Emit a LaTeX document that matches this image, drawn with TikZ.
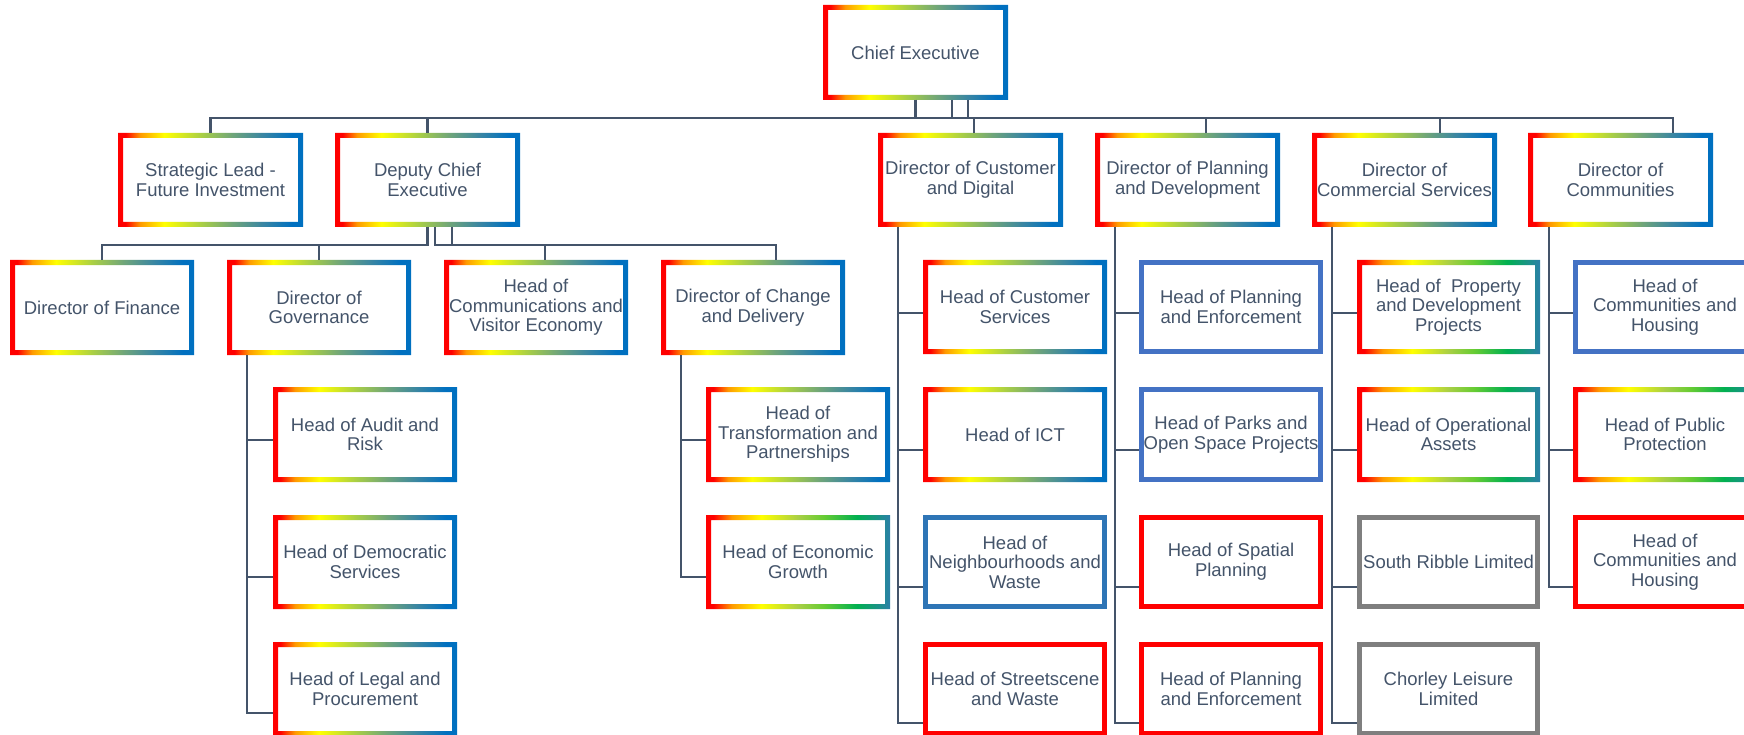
\documentclass[tikz,border=0pt]{standalone}
\usepackage{fontspec}
\setmainfont{Liberation Sans}
\definecolor{textC}{HTML}{44546A}
\definecolor{lineC}{HTML}{44546A}
\definecolor{orA}{HTML}{FF9A00}
\definecolor{yeA}{HTML}{FFFF00}
\definecolor{ygA}{HTML}{A9CF45}
\definecolor{gA}{HTML}{6FA57A}
\definecolor{tA}{HTML}{3A86A2}
\definecolor{bA}{HTML}{0070C0}
\definecolor{gB}{HTML}{66CC33}
\definecolor{g2B}{HTML}{00B050}
\definecolor{tB}{HTML}{2B80A8}
\definecolor{blueS}{HTML}{4472C4}
\definecolor{blueN}{HTML}{2E75B6}
\definecolor{grayS}{HTML}{7F7F7F}
\pgfdeclarehorizontalshading{rainA}{100bp}{color(0bp)=(red); color(27bp)=(red); color(31bp)=(orA); color(37.5bp)=(yeA); color(47.5bp)=(ygA); color(56bp)=(gA); color(64bp)=(tA); color(72bp)=(bA); color(100bp)=(bA)}
\pgfdeclarehorizontalshading{rainB}{100bp}{color(0bp)=(red); color(27bp)=(red); color(32bp)=(orA); color(40bp)=(yeA); color(50bp)=(ygA); color(57bp)=(gB); color(66bp)=(g2B); color(75bp)=(tB); color(100bp)=(tB)}
\tikzset{
  lbl/.style={inner sep=0pt, outer sep=0pt, align=center, text=textC,
    font=\fontsize{18.5pt}{19.6pt}\selectfont},
  conn/.style={draw=lineC, line width=2.8pt}
}
\newcommand\gradbox[7]{%
  \shade[shading=#6, even odd rule] (#2,#3) rectangle (#4,#5) ({#2+5},{#3+5}) rectangle ({#4-5},{#5-5});
  \node[lbl, minimum width={#4-#2}, minimum height={#5-#3}] (#1) at ({(#2+#4)/2},{(#3+#5)/2}) {#7};
}
\newcommand\solidbox[7]{%
  \draw[draw=#6, line width=5pt] ({#2+2.5},{#3+2.5}) rectangle ({#4-2.5},{#5-2.5});
  \node[lbl, minimum width={#4-#2}, minimum height={#5-#3}] (#1) at ({(#2+#4)/2},{(#3+#5)/2}) {#7};
}
\begin{document}
\begin{tikzpicture}[x=1pt, y=-1pt]
\fill[white] (0,0) rectangle (1744,735);
\useasboundingbox (0,0) rectangle (1744,735);
% boxes
\gradbox{chief}{823}{5}{1008}{100}{rainA}{Chief Executive}
\gradbox{strat}{118}{133}{303}{227}{rainA}{Strategic Lead -\\Future Investment}
\gradbox{deputy}{335}{133}{520}{227}{rainA}{Deputy Chief\\Executive}
\gradbox{dcust}{878}{133}{1063}{227}{rainA}{Director of Customer\\and Digital}
\gradbox{dplan}{1095}{133}{1280}{227}{rainA}{Director of Planning\\and Development}
\gradbox{dcomm}{1312}{133}{1497}{227}{rainA}{Director of\\Commercial Services}
\gradbox{dcommun}{1528}{133}{1713}{227}{rainA}{Director of\\Communities}
\gradbox{dfin}{10}{260}{194}{355}{rainA}{Director of Finance}
\gradbox{dgov}{227}{260}{411}{355}{rainA}{Director of\\Governance}
\gradbox{hcomms}{444}{260}{628}{355}{rainA}{Head of\\Communications and\\Visitor Economy}
\gradbox{dchange}{661}{260}{845}{355}{rainA}{Director of Change\\and Delivery}
\gradbox{haudit}{273}{387}{457}{482}{rainA}{Head of Audit and\\Risk}
\gradbox{hdem}{273}{515}{457}{609}{rainA}{Head of Democratic\\Services}
\gradbox{hlegal}{273}{642}{457}{736}{rainA}{Head of Legal and\\Procurement}
\gradbox{htrans}{706}{387}{890}{482}{rainA}{Head of\\Transformation and\\Partnerships}
\gradbox{hecon}{706}{515}{890}{609}{rainB}{Head of Economic\\Growth}
\gradbox{hcust}{923}{260}{1107}{354}{rainA}{Head of Customer\\Services}
\gradbox{hict}{923}{387}{1107}{482}{rainA}{Head of ICT}
\solidbox{hneigh}{923}{515}{1107}{609}{blueN}{Head of\\Neighbourhoods and\\Waste}
\solidbox{hstreet}{923}{642}{1107}{736}{red}{Head of Streetscene\\and Waste}
\solidbox{hplanA}{1139}{260}{1323}{354}{blueS}{Head of Planning\\and Enforcement}
\solidbox{hparks}{1139}{387}{1323}{482}{blueS}{Head of Parks and\\Open Space Projects}
\solidbox{hspatial}{1139}{515}{1323}{609}{red}{Head of Spatial\\Planning}
\solidbox{hplanB}{1139}{642}{1323}{736}{red}{Head of Planning\\and Enforcement}
\gradbox{hprop}{1357}{260}{1540}{354}{rainB}{Head of~~Property\\and Development\\Projects}
\gradbox{hops}{1357}{387}{1540}{482}{rainB}{Head of Operational\\Assets}
\solidbox{hsrl}{1357}{515}{1540}{609}{grayS}{South Ribble Limited}
\solidbox{hcll}{1357}{642}{1540}{736}{grayS}{Chorley Leisure\\Limited}
\solidbox{hchA}{1573}{260}{1757}{354}{blueS}{Head of\\Communities and\\Housing}
\gradbox{hpub}{1573}{387}{1757}{482}{rainB}{Head of Public\\Protection}
\solidbox{hchB}{1573}{515}{1757}{609}{red}{Head of\\Communities and\\Housing}
% top level connectors
\draw[conn] (chief.south) -- ++(0,18) -| (strat.north);
\draw[conn] (chief.south) -- ++(0,18) -| (deputy.north);
\draw[conn] (chief.south) -- ++(0,18) -| ([xshift=3.5pt]dcust.north);
\draw[conn] ([xshift=36.5pt]chief.south) -- ++(0,18) -| ([xshift=18.5pt]dplan.north);
\draw[conn] ([xshift=52.5pt]chief.south) -- ++(0,18) -| ([xshift=35.5pt]dcomm.north);
\draw[conn] ([xshift=52.5pt]chief.south) -- ++(0,18) -| ([xshift=52.5pt]dcommun.north);
% deputy connectors
\draw[conn] (deputy.south) -- ++(0,18) -| (dfin.north);
\draw[conn] (deputy.south) -- ++(0,18) -| (dgov.north);
\draw[conn] ([xshift=7.5pt]deputy.south) -- ++(0,18) -| ([xshift=9pt]hcomms.north);
\draw[conn] ([xshift=24.5pt]deputy.south) -- ++(0,18) -| ([xshift=23pt]dchange.north);
% governance column
\draw[conn] ([xshift=20pt]dgov.south west) |- ([yshift=-5.5pt]haudit.west);
\draw[conn] ([xshift=20pt]dgov.south west) |- ([yshift=-15pt]hdem.west);
\draw[conn] ([xshift=20pt]dgov.south west) |- ([yshift=-24pt]hlegal.west);
% change column
\draw[conn] ([xshift=20pt]dchange.south west) |- ([yshift=-5.5pt]htrans.west);
\draw[conn] ([xshift=20pt]dchange.south west) |- ([yshift=-15pt]hecon.west);
% customer column
\draw[conn] ([xshift=20pt]dcust.south west) |- ([yshift=-6pt]hcust.west);
\draw[conn] ([xshift=20pt]dcust.south west) |- ([yshift=-15.5pt]hict.west);
\draw[conn] ([xshift=20pt]dcust.south west) |- ([yshift=-25pt]hneigh.west);
\draw[conn] ([xshift=20pt]dcust.south west) |- ([yshift=-34pt]hstreet.west);
% planning column
\draw[conn] ([xshift=20pt]dplan.south west) |- ([yshift=-6pt]hplanA.west);
\draw[conn] ([xshift=20pt]dplan.south west) |- ([yshift=-15.5pt]hparks.west);
\draw[conn] ([xshift=20pt]dplan.south west) |- ([yshift=-25pt]hspatial.west);
\draw[conn] ([xshift=20pt]dplan.south west) |- ([yshift=-34pt]hplanB.west);
% commercial column
\draw[conn] ([xshift=20pt]dcomm.south west) |- ([yshift=-6pt]hprop.west);
\draw[conn] ([xshift=20pt]dcomm.south west) |- ([yshift=-15.5pt]hops.west);
\draw[conn] ([xshift=20pt]dcomm.south west) |- ([yshift=-25pt]hsrl.west);
\draw[conn] ([xshift=20pt]dcomm.south west) |- ([yshift=-34pt]hcll.west);
% communities column
\draw[conn] ([xshift=21pt]dcommun.south west) |- ([yshift=-6pt]hchA.west);
\draw[conn] ([xshift=21pt]dcommun.south west) |- ([yshift=-15.5pt]hpub.west);
\draw[conn] ([xshift=21pt]dcommun.south west) |- ([yshift=-25pt]hchB.west);
\end{tikzpicture}
\end{document}
